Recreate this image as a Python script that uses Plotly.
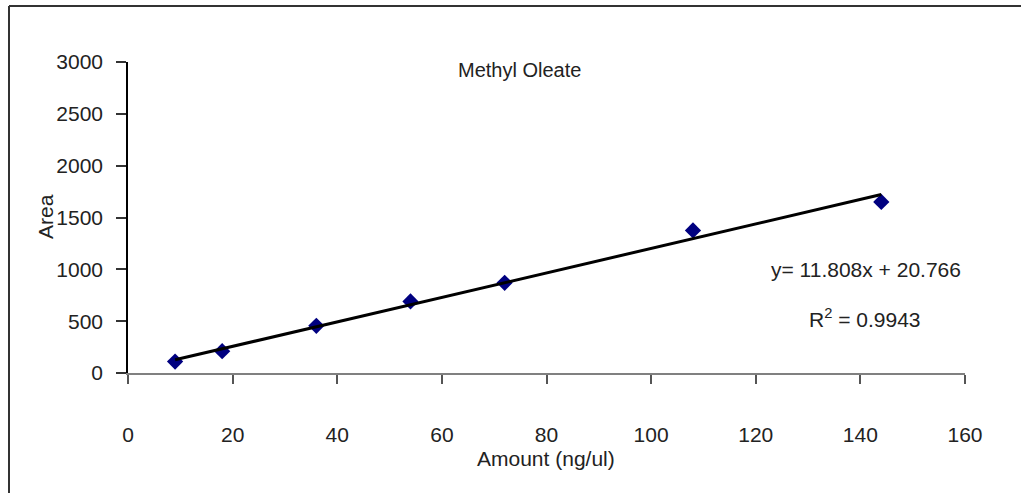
import plotly.graph_objects as go

# Calibration data for methyl oleate
amount = [9, 18, 36, 54, 72, 108, 144]          # ng/ul
area = [110, 210, 455, 690, 870, 1375, 1650]     # peak area

# Linear trendline coefficients
slope = 11.808
intercept = 20.766
r_squared = 0.9943

x_ticks = [0, 20, 40, 60, 80, 100, 120, 140, 160]
y_ticks = [0, 500, 1000, 1500, 2000, 2500, 3000]

FONT = "Liberation Sans, Arial, sans-serif"
TXT = "#222222"

trend_x = [min(amount), max(amount)]
trend_y = [slope * v + intercept for v in trend_x]

fig = go.Figure()
fig.add_trace(go.Scatter(
    x=amount, y=area, mode="markers",
    marker=dict(symbol="diamond", size=12.5, color="#000080", line=dict(width=0)),
    showlegend=False, cliponaxis=False,
))
fig.add_trace(go.Scatter(
    x=trend_x, y=trend_y, mode="lines",
    line=dict(color="black", width=3),
    showlegend=False, cliponaxis=False,
))

W, H = 1021, 493
L, R, T, B = 128, 56, 62, 120
pw, ph = W - L - R, H - T - B


def px_x(p):
    return (p - L) / pw


def px_y(p):
    return (H - B - p) / ph


def label(text, cx, cy, size=21, angle=0):
    return dict(text=text, xref="paper", yref="paper",
                x=px_x(cx), y=px_y(cy), xanchor="center", yanchor="middle",
                textangle=angle, showarrow=False,
                font=dict(family=FONT, size=size, color=TXT))


fig.update_layout(
    width=W, height=H,
    margin=dict(l=L, r=R, t=T, b=B),
    paper_bgcolor="white", plot_bgcolor="white",
    font=dict(family=FONT, size=21, color=TXT),
    xaxis=dict(
        range=[0, 160], tickvals=x_ticks, showgrid=False, zeroline=False,
        showline=True, linecolor="#808080", linewidth=1.5,
        ticks="outside", ticklen=9, tickwidth=1.5, tickcolor="#555555",
        ticklabelstandoff=33,
        tickfont=dict(family=FONT, size=21, color=TXT),
    ),
    yaxis=dict(
        range=[0, 3000], tickvals=y_ticks, showgrid=False, zeroline=False,
        showline=True, linecolor="black", linewidth=1.5,
        ticks="outside", ticklen=10, tickwidth=1.5, tickcolor="#333333",
        ticklabelstandoff=9,
        tickfont=dict(family=FONT, size=21, color=TXT),
    ),
    shapes=[
        # outer chart frame (left and top edges)
        dict(type="line", xref="paper", yref="paper",
             x0=px_x(9), x1=px_x(9), y0=px_y(6), y1=px_y(H + 5),
             line=dict(color="#333333", width=2)),
        dict(type="line", xref="paper", yref="paper",
             x0=px_x(9), x1=px_x(W + 5), y0=px_y(6), y1=px_y(6),
             line=dict(color="#333333", width=2)),
    ],
    annotations=[
        label("Methyl Oleate", 519, 70, size=20),
        label("Area", 45, 217, angle=-90),
        label("Amount (ng/ul)", 546, 459),
        label(f"y= {slope:.3f}x + {intercept:.3f}", 866, 269),
        label(f"R<sup>2</sup> = {r_squared:.4f}", 865, 318),
    ],
)

fig.write_html("out.html")
